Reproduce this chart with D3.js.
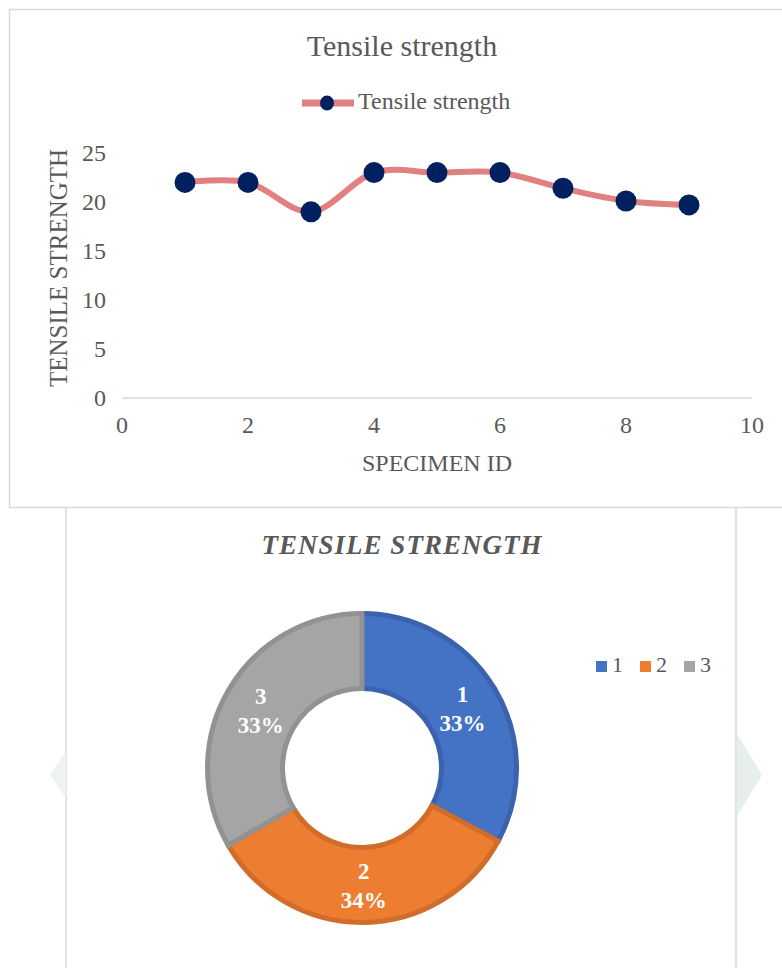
<!DOCTYPE html>
<html>
<head>
<meta charset="utf-8">
<script src="https://cdn.jsdelivr.net/npm/d3@7"></script>
<style>
  body { margin: 0; background: #fff; }
  svg { display: block; font-family: "Liberation Serif", "Times New Roman", serif; }
</style>
</head>
<body>
<div id="chart"></div>
<script>
// line chart data
var specimenIds = [1, 2, 3, 4, 5, 6, 7, 8, 9];
var strengthValues = [22, 22, 19, 23, 23, 23, 21.4, 20.1, 19.7];
var xTicks = [0, 2, 4, 6, 8, 10];
var yTicks = [0, 5, 10, 15, 20, 25];

// doughnut data
var pieLabels = ["1", "2", "3"];
var pieValues = [65, 67, 66];
var pieColors = ["#4472c4", "#ed7d31", "#a5a5a5"];
var pieStrokes = ["#3b63ad", "#d06d2b", "#929292"];

var textColor = "#595959",
	frameColor = "#d9d9d9";

var svg = d3.select("#chart").append("svg")
	.attr("width", 782)
	.attr("height", 968);

// ---------- frames ----------
svg.append("rect")
	.attr("x", 9.5).attr("y", 9.5)
	.attr("width", 800).attr("height", 498)
	.attr("fill", "none")
	.attr("stroke", frameColor)
	.attr("stroke-width", 1.5);

svg.append("path")
	.attr("d", "M66,508 V968 M736,508 V968")
	.attr("fill", "none")
	.attr("stroke", frameColor)
	.attr("stroke-width", 1.5);

// faint side decorations
svg.append("path")
	.attr("d", "M66,751 L50,775 L66,798 Z")
	.attr("fill", "#eef2f2");
svg.append("path")
	.attr("d", "M737,734 L762,775 L737,816 Z")
	.attr("fill", "#e6eeee");

// ---------- line chart ----------
var x = d3.scaleLinear().domain([0, 10]).range([122, 752]);
var y = d3.scaleLinear().domain([0, 25]).range([398, 153]);

svg.append("text")
	.attr("x", 402).attr("y", 56)
	.attr("text-anchor", "middle")
	.attr("font-size", 30)
	.attr("fill", textColor)
	.text("Tensile strength");

// legend
var legend = svg.append("g");
legend.append("line")
	.attr("x1", 302).attr("x2", 354)
	.attr("y1", 103).attr("y2", 103)
	.attr("stroke", "#e08080")
	.attr("stroke-width", 7);
legend.append("ellipse")
	.attr("cx", 327).attr("cy", 103)
	.attr("rx", 7).attr("ry", 7.5)
	.attr("fill", "#002060");
legend.append("text")
	.attr("x", 358).attr("y", 109)
	.attr("font-size", 24)
	.attr("fill", textColor)
	.text("Tensile strength");

// x axis baseline
svg.append("line")
	.attr("x1", x(0)).attr("x2", x(10))
	.attr("y1", y(0)).attr("y2", y(0))
	.attr("stroke", frameColor)
	.attr("stroke-width", 1.5);

svg.selectAll(".ytick")
	.data(yTicks)
	.enter().append("text")
	.attr("class", "ytick")
	.attr("x", 106)
	.attr("y", function(d) { return y(d) + 8; })
	.attr("text-anchor", "end")
	.attr("font-size", 24)
	.attr("fill", textColor)
	.text(function(d) { return d; });

svg.selectAll(".xtick")
	.data(xTicks)
	.enter().append("text")
	.attr("class", "xtick")
	.attr("x", function(d) { return x(d); })
	.attr("y", 433)
	.attr("text-anchor", "middle")
	.attr("font-size", 24)
	.attr("fill", textColor)
	.text(function(d) { return d; });

svg.append("text")
	.attr("x", 437).attr("y", 471)
	.attr("text-anchor", "middle")
	.attr("font-size", 24)
	.attr("fill", textColor)
	.text("SPECIMEN ID");

svg.append("text")
	.attr("transform", "translate(67,268) rotate(-90)")
	.attr("text-anchor", "middle")
	.attr("font-size", 25)
	.attr("fill", textColor)
	.text("TENSILE STRENGTH");

var points = specimenIds.map(function(id, i) { return [id, strengthValues[i]]; });

var line = d3.line()
	.x(function(d) { return x(d[0]); })
	.y(function(d) { return y(d[1]); })
	.curve(d3.curveCatmullRom.alpha(0));

svg.append("path")
	.datum(points)
	.attr("d", line)
	.attr("fill", "none")
	.attr("stroke", "#e08080")
	.attr("stroke-width", 6)
	.attr("stroke-linecap", "round");

svg.selectAll(".dot")
	.data(points)
	.enter().append("circle")
	.attr("class", "dot")
	.attr("cx", function(d) { return x(d[0]); })
	.attr("cy", function(d) { return y(d[1]); })
	.attr("r", 10.5)
	.attr("fill", "#002060");

// ---------- doughnut ----------
svg.append("text")
	.attr("x", 402).attr("y", 554)
	.attr("text-anchor", "middle")
	.attr("font-size", 27)
	.attr("font-weight", "bold")
	.attr("font-style", "italic")
	.attr("letter-spacing", 1)
	.attr("fill", textColor)
	.text("TENSILE STRENGTH");

var cx = 362, cy = 768, rOuter = 157, rInner = 77;
var total = d3.sum(pieValues);

var pie = d3.pie().sort(null).value(function(d) { return d; });
var arcs = pie(pieValues);

var arc = d3.arc().innerRadius(rInner + 2.5).outerRadius(rOuter - 2.5);
var labelArc = d3.arc().innerRadius(117).outerRadius(117);

var donut = svg.append("g").attr("transform", "translate(" + cx + "," + cy + ")");

donut.selectAll(".slice")
	.data(arcs)
	.enter().append("path")
	.attr("class", "slice")
	.attr("d", arc)
	.attr("fill", function(d, i) { return pieColors[i]; })
	.attr("stroke", function(d, i) { return pieStrokes[i]; })
	.attr("stroke-width", 5)
	.attr("stroke-linejoin", "miter");

var labels = donut.selectAll(".plabel")
	.data(arcs)
	.enter().append("text")
	.attr("class", "plabel")
	.attr("transform", function(d) { return "translate(" + labelArc.centroid(d) + ")"; })
	.attr("text-anchor", "middle")
	.attr("font-size", 23)
	.attr("font-weight", "bold")
	.attr("fill", "#ffffff");

labels.append("tspan")
	.attr("x", 0).attr("dy", -6)
	.text(function(d, i) { return pieLabels[i]; });
labels.append("tspan")
	.attr("x", 0).attr("dy", 29)
	.text(function(d) { return Math.round(d.value / total * 100) + "%"; });

// legend
var pieLegend = svg.selectAll(".plegend")
	.data(pieLabels)
	.enter().append("g")
	.attr("class", "plegend")
	.attr("transform", function(d, i) { return "translate(" + (596 + i * 44) + ",661)"; });

pieLegend.append("rect")
	.attr("width", 11).attr("height", 11)
	.attr("fill", function(d, i) { return pieColors[i]; });

pieLegend.append("text")
	.attr("x", 16).attr("y", 11)
	.attr("font-size", 22)
	.attr("fill", textColor)
	.text(function(d) { return d; });
</script>
</body>
</html>
